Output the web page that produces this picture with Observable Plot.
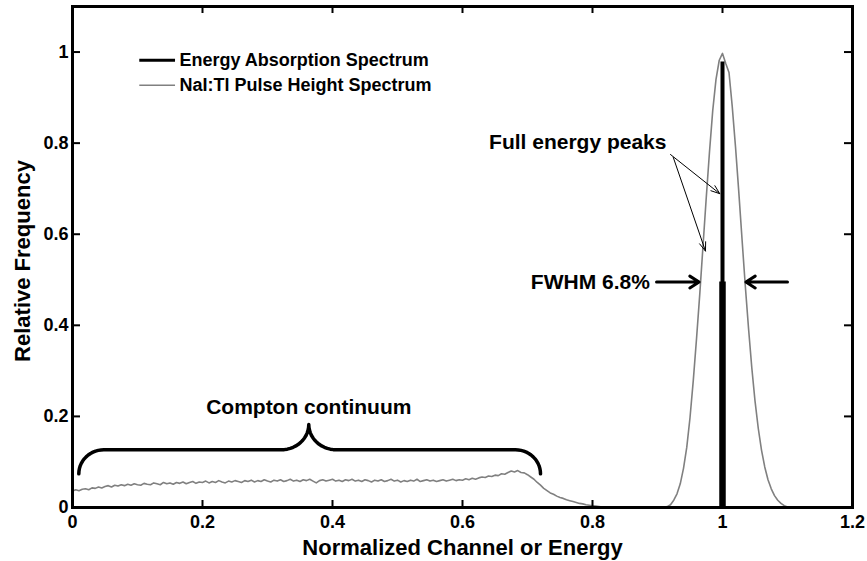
<!DOCTYPE html>
<html>
<head>
<meta charset="utf-8">
<script src="https://cdn.jsdelivr.net/npm/d3@7"></script>
<script src="https://cdn.jsdelivr.net/npm/@observablehq/plot@0.6"></script>
<style>
  html, body { margin: 0; padding: 0; background: #fff; }
</style>
</head>
<body>
<div id="chart"></div>
<script>
// ---- axis ticks ----
const xTicks = [0, 0.2, 0.4, 0.6, 0.8, 1, 1.2];
const xTickLabels = ["0", "0.2", "0.4", "0.6", "0.8", "1", "1.2"];
const yTicks = [0, 0.2, 0.4, 0.6, 0.8, 1];
const yTickLabels = ["0", "0.2", "0.4", "0.6", "0.8", "1"];

// ---- NaI:Tl pulse height spectrum (relative frequency per channel) ----
// channels run from 0 to 1.2 in steps of 0.005 (normalized energy)
const channelStart = 0;
const channelStep = 0.005;
const pulseHeight = [
  0.036,0.039,0.037,0.040,0.041,0.039,0.043,0.042,0.045,0.043, // 0.000
  0.046,0.048,0.045,0.049,0.047,0.050,0.048,0.051,0.049,0.052, // 0.050
  0.050,0.049,0.053,0.051,0.050,0.054,0.052,0.050,0.055,0.052, // 0.100
  0.054,0.051,0.055,0.053,0.056,0.052,0.055,0.057,0.053,0.056, // 0.150
  0.055,0.058,0.054,0.057,0.055,0.059,0.056,0.054,0.058,0.056, // 0.200
  0.059,0.057,0.055,0.059,0.057,0.060,0.056,0.059,0.057,0.061, // 0.250
  0.058,0.056,0.060,0.058,0.061,0.057,0.059,0.062,0.058,0.060, // 0.300
  0.057,0.061,0.059,0.062,0.058,0.054,0.059,0.061,0.058,0.060, // 0.350
  0.062,0.058,0.060,0.057,0.061,0.059,0.062,0.058,0.060,0.057, // 0.400
  0.061,0.059,0.056,0.060,0.058,0.061,0.057,0.059,0.062,0.058, // 0.450
  0.060,0.056,0.059,0.057,0.060,0.058,0.062,0.057,0.059,0.061, // 0.500
  0.058,0.060,0.057,0.059,0.061,0.058,0.060,0.062,0.059,0.061, // 0.550
  0.060,0.063,0.061,0.064,0.062,0.065,0.067,0.066,0.069,0.068, // 0.600
  0.071,0.070,0.074,0.073,0.077,0.080,0.078,0.081,0.077,0.076, // 0.650
  0.072,0.067,0.062,0.055,0.049,0.042,0.037,0.032,0.029,0.025, // 0.700
  0.022,0.020,0.017,0.015,0.013,0.011,0.009,0.008,0.006,0.005, // 0.750
  0.004,0.003,0.002,0.001,0.001,0,0,0,0,0,                     // 0.800
  0,0,0,0,0,0,0,0,0,0,                                         // 0.850
  0,0,0,0.002,0.006,0.016,0.030,0.052,0.086,0.132,             // 0.900
  0.197,0.278,0.370,0.468,0.574,0.680,0.781,0.872,0.940,0.982, // 0.950
  0.997,0.975,0.955,0.880,0.792,0.694,0.590,0.488,0.394,0.308, // 1.000
  0.234,0.174,0.126,0.089,0.061,0.041,0.026,0.016,0.009,0.004, // 1.050
  0.001,0,0,0,0,0,0,0,0,0,                                     // 1.100
  0,0,0,0,0,0,0,0,0,0,                                         // 1.150
  0                                                            // 1.200
];

// ---- energy absorption spectrum: a single line at the photopeak ----
const absorptionEnergy = 1;
const absorptionValue = 0.978;

// ---- full width at half maximum ----
const halfMaximum = 0.495;
const fwhmLeft = 0.964;
const fwhmRight = 1.036;

// ---- layout ----
const W = 867, H = 561;
const mL = 72, mR = 15, mT = 6, mB = 54;
const xMax = 1.2, yMax = 1.1;
const pxPerX = (W - mL - mR) / xMax;
const pxPerY = (H - mT - mB) / yMax;
const tickX = 8 / pxPerX;   // inward tick length along x, in data units
const tickY = 7 / pxPerY;   // inward tick length along y, in data units

const FONT = "'Liberation Sans', Arial, Helvetica, sans-serif";
const GRAY = "#808080";

const spectrum = pulseHeight.map((v, i) => ({
  channel: +(channelStart + i * channelStep).toFixed(3),
  value: v
}));

// curly brace over the Compton continuum, built from quarter arcs
function arc(cx, cy, rx, ry, a0, a1, n = 14) {
  return d3.range(n + 1).map(k => {
    const a = a0 + (a1 - a0) * k / n;
    return {x: cx + rx * Math.cos(a), y: cy + ry * Math.sin(a)};
  });
}
const braceX0 = 0.0097, braceX1 = 0.720, braceTip = 0.3635;
const braceEndY = 0.074, braceBarY = 0.1267, braceTipY = 0.1822;
const cornerR = 0.0385, tipR = 0.0425;
const brace = [
  ...arc(braceX0 + cornerR, braceEndY, cornerR, braceBarY - braceEndY, Math.PI, Math.PI / 2),
  ...arc(braceTip - tipR, braceTipY, tipR, braceTipY - braceBarY, -Math.PI / 2, 0),
  ...arc(braceTip + tipR, braceTipY, tipR, braceTipY - braceBarY, Math.PI, 1.5 * Math.PI),
  ...arc(braceX1 - cornerR, braceEndY, cornerR, braceBarY - braceEndY, Math.PI / 2, 0)
];

const fullEnergyArrows = [
  {x1: 0.9200, y1: 0.775, x2: 0.9958, y2: 0.689},
  {x1: 0.9242, y1: 0.769, x2: 0.9738, y2: 0.563}
];
const fwhmArrows = [
  {x1: 0.8985, x2: fwhmLeft, y: halfMaximum},
  {x1: 1.100, x2: fwhmRight, y: halfMaximum}
];

const legendRows = [
  {label: "Energy Absorption Spectrum", y: 0.982, stroke: "#000", width: 3},
  {label: "NaI:Tl Pulse Height Spectrum", y: 0.927, stroke: GRAY, width: 1.5}
];

const plot = Plot.plot({
  width: W,
  height: H,
  marginLeft: mL,
  marginRight: mR,
  marginTop: mT,
  marginBottom: mB,
  style: {fontFamily: FONT, fontWeight: "bold", fontSize: "18px", background: "#fff", color: "#000"},
  x: {domain: [0, xMax]},
  y: {domain: [0, yMax]},
  marks: [
    // spectra
    Plot.line(spectrum, {x: "channel", y: "value", stroke: GRAY, strokeWidth: 1.6}),
    Plot.ruleX([absorptionEnergy], {x: d => d, y1: 0, y2: absorptionValue, stroke: "#000", strokeWidth: 4}),
    Plot.ruleX([absorptionEnergy], {x: d => d, y1: 0, y2: halfMaximum, stroke: "#000", strokeWidth: 6.5}),

    // Compton continuum brace and label
    Plot.line(brace, {x: "x", y: "y", stroke: "#000", strokeWidth: 3.5}),
    Plot.text(["Compton continuum"], {x: braceTip, y: 0.2204, text: d => d, fontSize: 21, textAnchor: "middle"}),

    // full energy peaks annotation
    Plot.text(["Full energy peaks"], {x: 0.9138, y: 0.8023, text: d => d, fontSize: 21, textAnchor: "end"}),
    Plot.arrow(fullEnergyArrows, {x1: "x1", y1: "y1", x2: "x2", y2: "y2", stroke: "#000", strokeWidth: 1, headLength: 14, headAngle: 40}),

    // FWHM annotation
    Plot.text(["FWHM 6.8%"], {x: 0.8882, y: halfMaximum, text: d => d, fontSize: 21, textAnchor: "end"}),
    Plot.arrow(fwhmArrows, {x1: "x1", y1: "y", x2: "x2", y2: "y", stroke: "#000", strokeWidth: 3, headLength: 5.5, headAngle: 65}),

    // legend
    Plot.ruleY(legendRows, {y: "y", x1: 0.1035, x2: 0.1585, stroke: "stroke", strokeWidth: "width"}),
    Plot.text(legendRows, {x: 0.1646, y: "y", text: "label", fontSize: 18, textAnchor: "start"}),

    // inward ticks on all four sides
    Plot.ruleX(xTicks, {x: d => d, y1: 0, y2: tickY, stroke: "#000", strokeWidth: 2}),
    Plot.ruleX(xTicks, {x: d => d, y1: yMax - tickY, y2: yMax, stroke: "#000", strokeWidth: 2}),
    Plot.ruleY(yTicks, {y: d => d, x1: 0, x2: tickX, stroke: "#000", strokeWidth: 2}),
    Plot.ruleY(yTicks, {y: d => d, x1: xMax - tickX, x2: xMax, stroke: "#000", strokeWidth: 2}),

    Plot.frame({stroke: "#000", strokeWidth: 3}),

    // axes
    Plot.axisX({ticks: xTicks, tickFormat: d => xTickLabels[xTicks.indexOf(d)], tickSize: 0, tickPadding: 8, label: null, fontSize: 18}),
    Plot.axisY({ticks: yTicks, tickFormat: d => yTickLabels[yTicks.indexOf(d)], tickSize: 0, tickPadding: 4, label: null, fontSize: 18}),

    // axis titles
    Plot.text(["Normalized Channel or Energy"], {frameAnchor: "bottom", lineAnchor: "middle", text: d => d, dy: 40, fontSize: 22, textAnchor: "middle"}),
    Plot.text(["Relative Frequency"], {frameAnchor: "left", lineAnchor: "middle", text: d => d, dx: -50, dy: 4, rotate: -90, fontSize: 22, textAnchor: "middle"})
  ]
});

document.getElementById("chart").append(plot);
</script>
</body>
</html>
